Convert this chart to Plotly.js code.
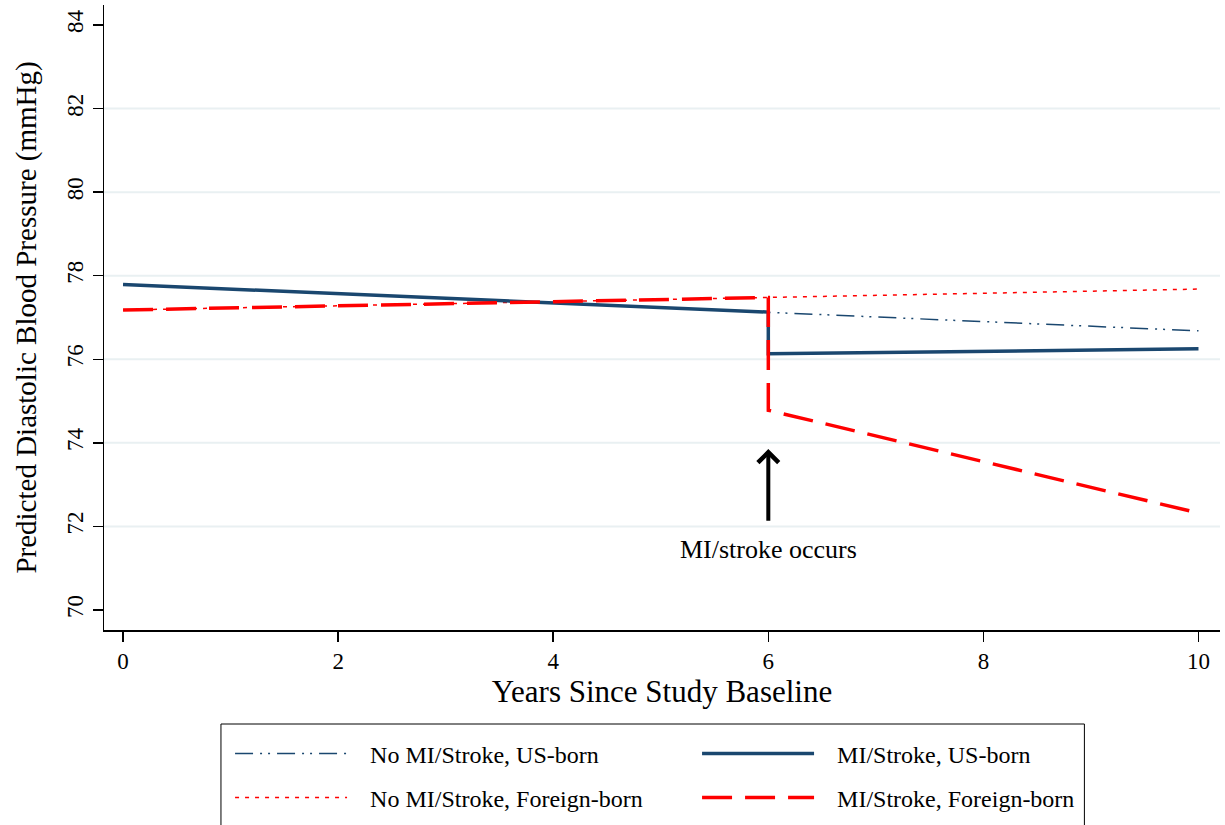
<!DOCTYPE html>
<html>
<head>
<meta charset="utf-8">
<script src="https://cdn.plot.ly/plotly-3.0.1.min.js"></script>
<style>html,body{margin:0;padding:0;background:#fff}#chart{width:1225px;height:825px}</style>
</head>
<body>
<div id="chart"></div>
<script>
// Data
const yearsFull = [0, 2, 4, 6, 8, 10];
const yearsEvent = [0, 2, 4, 6, 6, 8, 10];
const noMI_US = [77.79, 77.57, 77.35, 77.13, 76.90, 76.68];
const noMI_FB = [77.18, 77.28, 77.38, 77.48, 77.58, 77.68];
const MI_US = [77.79, 77.57, 77.35, 77.13, 76.13, 76.19, 76.25];
const MI_FB = [77.18, 77.28, 77.38, 77.48, 74.78, 73.55, 72.32];
const xTicks = [0, 2, 4, 6, 8, 10];
const yTicks = [70, 72, 74, 76, 78, 80, 82, 84];
const gridVals = [72, 74, 76, 78, 80, 82];
const seriesNames = ['No MI/Stroke, US-born', 'No MI/Stroke, Foreign-born', 'MI/Stroke, US-born', 'MI/Stroke, Foreign-born'];
const eventYear = 6;
const arrowFrom = 72.1, arrowTo = 73.85, labelY = 71.45;
const eventLabel = 'MI/stroke occurs';

const NAVY = '#1a476f', RED = '#ff0000';
const FONT = 'Liberation Serif, Times New Roman, serif';
const PAD = '\u00a0\u00a0\u00a0';

const traces = [
  {x: yearsFull, y: noMI_US, mode: 'lines', name: PAD + seriesNames[0],
   line: {color: NAVY, width: 1.5, dash: '18px,7px,2px,6px,2px,7px'}, legend: 'legend'},
  {x: yearsFull, y: noMI_FB, mode: 'lines', name: PAD + seriesNames[1],
   line: {color: RED, width: 1.5, dash: '4px,6px'}, legend: 'legend2'},
  {x: yearsEvent, y: MI_US, mode: 'lines', name: PAD + seriesNames[2],
   line: {color: NAVY, width: 3.5}, legend: 'legend'},
  {x: yearsEvent, y: MI_FB, mode: 'lines', name: PAD + seriesNames[3],
   line: {color: RED, width: 3.5, dash: '30px,13px'}, legend: 'legend2'}
];

const shapes = gridVals.map(v => ({
  type: 'line', xref: 'paper', x0: 0, x1: 1, yref: 'y', y0: v, y1: v,
  line: {color: '#e9f0f2', width: 2}, layer: 'below'
}));
shapes.push({type: 'rect', xref: 'paper', yref: 'paper', x0: 0.1048, x1: 0.8785, y0: -0.1504, y1: -0.33,
  line: {color: '#000', width: 1}, fillcolor: 'rgba(0,0,0,0)'});

const legendBase = {orientation: 'h', xref: 'container', yref: 'container', xanchor: 'left', yanchor: 'middle', x: 0.1878,
  entrywidth: 340, entrywidthmode: 'pixels', itemwidth: 112, borderwidth: 0, bgcolor: 'rgba(0,0,0,0)',
  font: {family: FONT, size: 24, color: '#000'}, traceorder: 'normal', itemclick: false};

const layout = {
  width: 1225, height: 825,
  margin: {l: 104, r: 5, t: 5, b: 195},
  paper_bgcolor: '#fff', plot_bgcolor: '#fff',
  font: {family: FONT, color: '#000'},
  xaxis: {range: [-0.177, 10.2], tickvals: xTicks, ticks: 'outside', ticklen: 10, tickwidth: 1.5,
    tickcolor: '#000', showgrid: false, zeroline: false, showline: true, linecolor: '#000', linewidth: 1.5,
    tickfont: {family: FONT, size: 23}, automargin: false,
    title: {text: 'Years Since Study Baseline', font: {family: FONT, size: 31}, standoff: 2}},
  yaxis: {range: [69.52, 84.48], tickvals: yTicks, ticks: 'outside', ticklen: 10, tickwidth: 1.5,
    tickcolor: '#000', showgrid: false, zeroline: false, showline: true, linecolor: '#000', linewidth: 1.5,
    tickangle: -90, tickfont: {family: FONT, size: 23}, automargin: false,
    title: {text: 'Predicted Diastolic Blood Pressure (mmHg)', font: {family: FONT, size: 29}, standoff: 18}},
  legend: Object.assign({}, legendBase, {y: 1 - 754 / 825}),
  legend2: Object.assign({}, legendBase, {y: 1 - 798 / 825}),
  shapes: shapes,
  annotations: [
    {x: eventYear, y: arrowTo, ax: eventYear, ay: arrowFrom, xref: 'x', yref: 'y', axref: 'x', ayref: 'y',
     showarrow: true, arrowhead: 4, arrowwidth: 4, arrowsize: 1, arrowcolor: '#000', text: ''},
    {x: eventYear, y: labelY, xref: 'x', yref: 'y', showarrow: false, text: eventLabel,
     font: {family: FONT, size: 26, color: '#000'}}
  ]
};

Plotly.newPlot('chart', traces, layout, {displayModeBar: false, staticPlot: true});
</script>
</body>
</html>
